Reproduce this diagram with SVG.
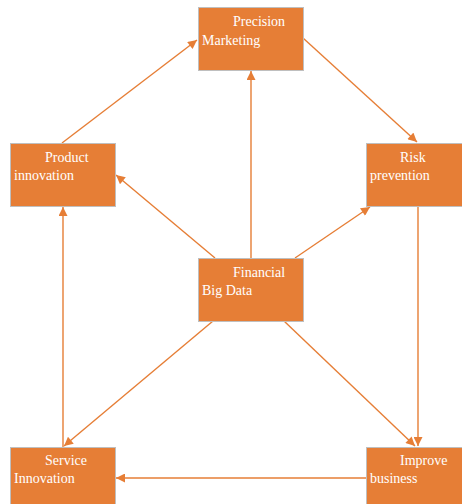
<svg xmlns="http://www.w3.org/2000/svg" width="462" height="504" viewBox="0 0 462 504">
<style>
.box{fill:#E67E36;stroke:#BFBFBF;stroke-width:1}
.lbl{font-family:"Liberation Serif","Times New Roman",serif;font-size:14px;fill:#FFFFFF}
.edge{stroke:#E67E36;stroke-width:1.4;fill:none;marker-end:url(#ah)}
</style>
<defs>
<marker id="ah" viewBox="0 0 10 10" refX="10" refY="5" markerWidth="10" markerHeight="9" markerUnits="userSpaceOnUse" orient="auto">
<path d="M0,0 L10,5 L0,10 z" fill="#E67E36"/>
</marker>
</defs>
<rect width="462" height="504" fill="#FFFFFF"/>
<g id="connectors">
<line class="edge" x1="251" y1="258" x2="251" y2="71"/>
<line class="edge" x1="215" y1="258" x2="116" y2="175"/>
<line class="edge" x1="295" y1="258" x2="370" y2="207"/>
<line class="edge" x1="213" y1="321" x2="64" y2="446"/>
<line class="edge" x1="284" y1="321" x2="415" y2="446"/>
<line class="edge" x1="62" y1="143" x2="197" y2="40"/>
<line class="edge" x1="303" y1="38" x2="417" y2="142"/>
<line class="edge" x1="418" y1="206" x2="418" y2="446"/>
<line class="edge" x1="367" y1="478" x2="116" y2="478"/>
<line class="edge" x1="63" y1="447" x2="63" y2="207"/>
</g>
<g id="precision-marketing">
<rect class="box" x="198.5" y="7.5" width="105" height="63"/>
<text class="lbl" x="233" y="26">Precision</text>
<text class="lbl" x="202" y="45">Marketing</text>
</g>
<g id="product-innovation">
<rect class="box" x="10.5" y="143.5" width="105" height="63"/>
<text class="lbl" x="45" y="162">Product</text>
<text class="lbl" x="14" y="180">innovation</text>
</g>
<g id="risk-prevention">
<rect class="box" x="366.5" y="143.5" width="105" height="63"/>
<text class="lbl" x="400" y="162">Risk</text>
<text class="lbl" x="370" y="180">prevention</text>
</g>
<g id="financial-big-data">
<rect class="box" x="198.5" y="258.5" width="105" height="63"/>
<text class="lbl" x="233" y="277">Financial</text>
<text class="lbl" x="202" y="295">Big Data</text>
</g>
<g id="service-innovation">
<rect class="box" x="10.5" y="447.5" width="105" height="63"/>
<text class="lbl" x="45" y="465">Service</text>
<text class="lbl" x="14" y="483">Innovation</text>
</g>
<g id="improve-business">
<rect class="box" x="366.5" y="447.5" width="105" height="63"/>
<text class="lbl" x="400" y="465">Improve</text>
<text class="lbl" x="370" y="483">business</text>
</g>
</svg>
